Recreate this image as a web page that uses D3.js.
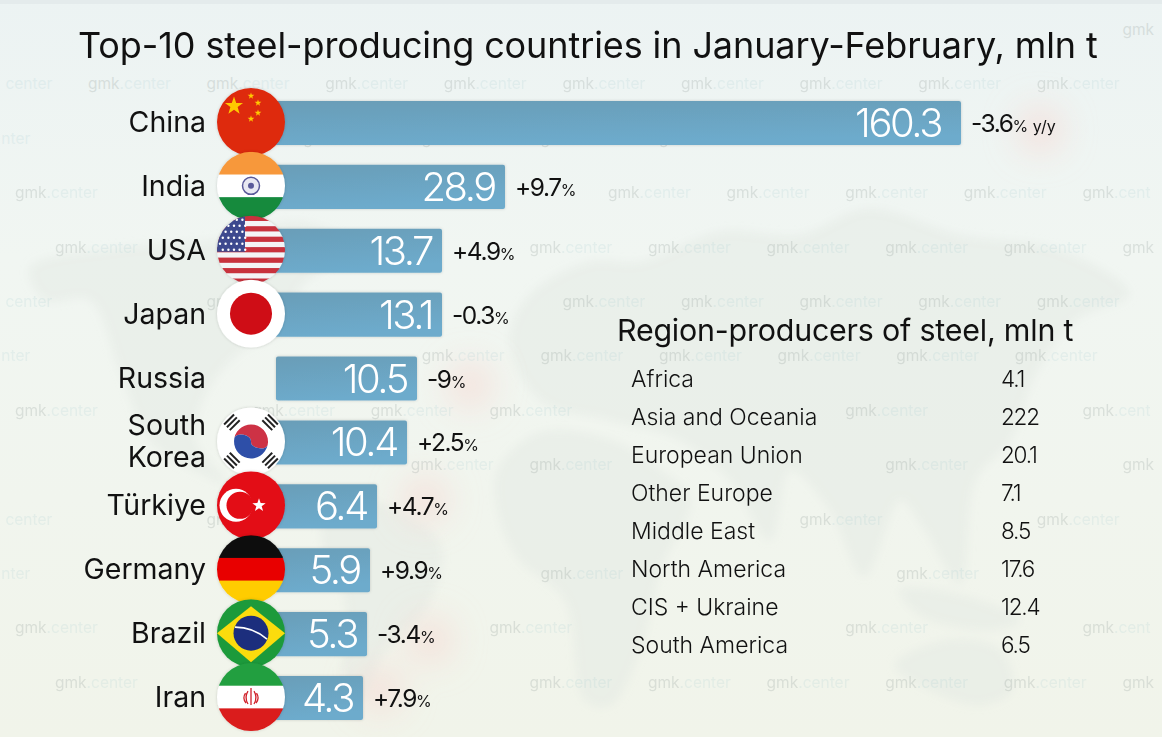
<!DOCTYPE html>
<html>
<head>
<meta charset="utf-8">
<script src="https://cdnjs.cloudflare.com/ajax/libs/d3/7.8.5/d3.min.js"></script>
<style>
html, body { margin: 0; padding: 0; background: #eef3ef; }
svg { display: block; }
text { font-family: Inter, Lato, sans-serif; fill: #111; }
</style>
</head>
<body>
<svg id="chart" width="1162" height="737"></svg>
<script>
var countries = ["China", "India", "USA", "Japan", "Russia", "South Korea", "Türkiye", "Germany", "Brazil", "Iran"];
var output = [160.3, 28.9, 13.7, 13.1, 10.5, 10.4, 6.4, 5.9, 5.3, 4.3];
var changes = ["-3.6", "+9.7", "+4.9", "-0.3", "-9", "+2.5", "+4.7", "+9.9", "-3.4", "+7.9"];
var regions = ["Africa", "Asia and Oceania", "European Union", "Other Europe", "Middle East", "North America", "CIS + Ukraine", "South America"];
var regionOutput = ["4.1", "222", "20.1", "7.1", "8.5", "17.6", "12.4", "6.5"];

var svg = d3.select("#chart");
var defs = svg.append("defs");

var bg = defs.append("linearGradient").attr("id", "bg").attr("x1", 0).attr("y1", 0).attr("x2", 0).attr("y2", 1);
bg.append("stop").attr("offset", 0).attr("stop-color", "#ecf3f3");
bg.append("stop").attr("offset", 0.35).attr("stop-color", "#f1f6f2");
bg.append("stop").attr("offset", 1).attr("stop-color", "#f1f4ea");

var barFill = defs.append("linearGradient").attr("id", "barFill").attr("x1", 0).attr("y1", 0).attr("x2", 0.3).attr("y2", 1);
barFill.append("stop").attr("offset", 0).attr("stop-color", "#6a9db7");
barFill.append("stop").attr("offset", 1).attr("stop-color", "#6dabcc");

defs.append("filter").attr("id", "blur").attr("x", "-20%").attr("y", "-20%").attr("width", "140%").attr("height", "140%")
	.append("feGaussianBlur").attr("stdDeviation", 4);
defs.append("filter").attr("id", "glow").attr("x", "-80%").attr("y", "-80%").attr("width", "260%").attr("height", "260%")
	.append("feGaussianBlur").attr("stdDeviation", 16);
defs.append("filter").attr("id", "shadow").attr("x", "-20%").attr("y", "-20%").attr("width", "140%").attr("height", "140%")
	.append("feDropShadow").attr("dx", 0).attr("dy", 0).attr("stdDeviation", 1.5).attr("flood-color", "#000").attr("flood-opacity", 0.16);

svg.append("rect").attr("width", 1162).attr("height", 737).attr("fill", "url(#bg)");
svg.append("rect").attr("width", 1162).attr("height", 4).attr("fill", "#e4ebec");

// faint world map behind everything, rough outlines only
var land = [
	[[30, 268], [120, 248], [215, 240], [300, 222], [350, 246], [300, 288], [285, 330], [240, 352], [205, 395], [195, 440], [225, 482], [190, 468], [150, 440], [120, 370], [90, 300], [45, 300]],
	[[330, 498], [385, 505], [440, 545], [425, 610], [385, 650], [360, 700], [345, 690], [345, 600], [322, 540]],
	[[510, 340], [530, 295], [590, 262], [640, 262], [720, 232], [800, 235], [868, 209], [960, 235], [1060, 250], [1129, 294], [1075, 320], [1035, 375], [1010, 440], [975, 480], [960, 583], [925, 530], [900, 500], [864, 576], [830, 510], [790, 470], [770, 540], [730, 480], [680, 440], [610, 420], [540, 400]],
	[[498, 470], [540, 433], [610, 440], [660, 470], [690, 500], [660, 570], [640, 650], [610, 705], [585, 700], [565, 600], [520, 560], [500, 520]],
	[[895, 665], [950, 640], [1000, 650], [1012, 690], [980, 705], [930, 690]],
	[[900, 590], [960, 595], [1020, 620], [990, 630], [920, 615]]
];
var blob = d3.line().curve(d3.curveCatmullRomClosed.alpha(0.5));
svg.append("g").attr("filter", "url(#blur)").selectAll("path").data(land).enter().append("path")
	.attr("d", function (d) { return blob(d); })
	.attr("fill", "#e3e9e3")
	.attr("opacity", 0.5);

// reddish smudges from the original artwork
var smudges = [[1040, 130], [470, 385], [430, 640], [425, 500], [380, 690]];
svg.append("g").attr("filter", "url(#glow)").selectAll("circle").data(smudges).enter().append("circle")
	.attr("cx", function (d) { return d[0]; })
	.attr("cy", function (d) { return d[1]; })
	.attr("r", 24)
	.attr("fill", "#f6d9d2")
	.attr("opacity", 0.6);

// filled at the very end, once the foreground text can be measured
var mark = svg.append("g").attr("font-size", 15.5);

// the bars in the artwork are not to a linear scale, so the scale follows them knot by knot
var x = d3.scaleLinear()
	.domain([0, 4.3, 5.3, 5.9, 6.4, 10.4, 10.5, 13.1, 13.7, 28.9, 160.3])
	.range([276, 363, 367, 370, 377, 407, 417, 442, 442, 505, 961]);
var y = d3.scaleBand().domain(countries).range([91, 730]).paddingInner(0.31).paddingOuter(0.155);
var flagX = 251, flagR = 34;

svg.append("text")
	.attr("class", "fg")
	.attr("x", 78).attr("y", 58)
	.attr("font-size", 36)
	.attr("letter-spacing", -0.1)
	.text("Top-10 steel-producing countries in January-February, mln t");

var rows = svg.selectAll("g.row").data(countries).enter().append("g").attr("class", "row");

rows.append("rect")
	.attr("x", function (d) { return d == "Russia" ? x(0) : flagX; })
	.attr("y", function (d) { return y(d); })
	.attr("width", function (d, i) { return x(output[i]) - (d == "Russia" ? x(0) : flagX); })
	.attr("height", y.bandwidth())
	.attr("rx", 2)
	.attr("fill", "url(#barFill)")
	.attr("filter", "url(#shadow)");

rows.append("text")
	.attr("class", "fg")
	.attr("x", function (d, i) { return x(output[i]) - (i == 0 ? 20 : 10); })
	.attr("y", function (d) { return y(d) + y.bandwidth() / 2 + 14; })
	.attr("text-anchor", "end")
	.attr("font-size", 40)
	.attr("font-weight", 300)
	.attr("letter-spacing", -2.4)
	.style("fill", "#fff")
	.text(function (d, i) { return output[i]; });

var change = rows.append("text")
	.attr("class", "fg")
	.attr("x", function (d, i) { return x(output[i]) + 10; })
	.attr("y", function (d) { return y(d) + y.bandwidth() / 2 + 9; })
	.attr("font-size", 24.5)
	.attr("letter-spacing", -1.4);
change.append("tspan").text(function (d, i) { return changes[i]; });
change.append("tspan").attr("font-size", 16).attr("letter-spacing", 0).text(function (d, i) { return i == 0 ? "% y/y" : "%"; });

// country names, South Korea breaks over two lines
var names = rows.append("text")
	.attr("class", "fg")
	.attr("text-anchor", "end")
	.attr("font-size", 28.5)
	.attr("y", function (d) { return y(d) + y.bandwidth() / 2 + 9; });
names.selectAll("tspan")
	.data(function (d) { return d == "South Korea" ? ["South", "Korea"] : [d]; })
	.enter().append("tspan")
	.attr("x", 206)
	.attr("dy", function (d, i, n) { return n.length > 1 ? (i == 0 ? -16 : 32) : 0; })
	.text(function (d) { return d; });

// flags, each one drawn around the origin and clipped to the circle
var flags = {
	"China": function (g) {
		g.append("rect").attr("x", -34).attr("y", -34).attr("width", 68).attr("height", 68).attr("fill", "#de2910");
		star(g, -17, -16, 9.5, "#ffc800");
		[[0, -26], [7, -19], [7, -9], [0, -3]].forEach(function (p) { star(g, p[0], p[1], 3.5, "#ffc800"); });
	},
	"India": function (g) {
		stripes(g, ["#f7983a", "#ffffff", "#128a3c"]);
		g.append("circle").attr("r", 8.5).attr("fill", "#e8e8f2").attr("stroke", "#5a5a9a").attr("stroke-width", 1.5);
		g.append("circle").attr("r", 3).attr("fill", "#5a5a9a");
	},
	"USA": function (g) {
		stripes(g, d3.range(13).map(function (i) { return i % 2 ? "#f4f4f6" : "#c8313e"; }));
		g.append("rect").attr("x", -34).attr("y", -34).attr("width", 28).attr("height", 36).attr("fill", "#3c4a8e");
		d3.range(6).forEach(function (r) {
			d3.range(5).forEach(function (c) {
				g.append("circle").attr("cx", -31 + c * 5.6 + (r % 2) * 2.8).attr("cy", -30 + r * 6).attr("r", 1.2).attr("fill", "#fff");
			});
		});
	},
	"Japan": function (g) {
		g.append("rect").attr("x", -34).attr("y", -34).attr("width", 68).attr("height", 68).attr("fill", "#fff");
		g.append("circle").attr("r", 21).attr("fill", "#cf0a12");
	},
	"South Korea": function (g) {
		g.append("rect").attr("x", -34).attr("y", -34).attr("width", 68).attr("height", 68).attr("fill", "#fff");
		var mid = "A8.5 5 0 0 1 0 0 A8.5 5 0 0 0 -17 0 Z";
		var t = g.append("g").attr("transform", "rotate(12)");
		t.append("path").attr("d", "M-17 0 A17 17 0 0 1 17 0 " + mid).attr("fill", "#cd3045");
		t.append("path").attr("d", "M-17 0 A17 17 0 0 0 17 0 " + mid).attr("fill", "#2f4fa8");
		[45, 135, 225, 315].forEach(function (a) {
			var bars = g.append("g").attr("transform", "rotate(" + a + ") translate(0,-27)");
			[-4, 0, 4].forEach(function (o) {
				bars.append("rect").attr("x", -7).attr("y", o - 1).attr("width", 14).attr("height", 2).attr("fill", "#222");
			});
		});
	},
	"Türkiye": function (g) {
		g.append("rect").attr("x", -34).attr("y", -34).attr("width", 68).attr("height", 68).attr("fill", "#e30a17");
		g.append("circle").attr("cx", -15).attr("r", 16.5).attr("fill", "#fff");
		g.append("circle").attr("cx", -11).attr("r", 13.5).attr("fill", "#e30a17");
		star(g, 8, 0, 7, "#fff");
	},
	"Germany": function (g) { stripes(g, ["#0b0b0b", "#e80000", "#ffcc00"]); },
	"Brazil": function (g) {
		g.append("rect").attr("x", -34).attr("y", -34).attr("width", 68).attr("height", 68).attr("fill", "#1f9a3a");
		g.append("path").attr("d", "M0 -27 L34 0 L0 29 L-34 0 Z").attr("fill", "#fbdc0b");
		g.append("circle").attr("r", 17.5).attr("fill", "#1c2d7d");
		g.append("path").attr("d", "M-16 -6 Q2 -6 16 6").attr("fill", "none").attr("stroke", "#fff").attr("stroke-width", 1.6);
	},
	"Iran": function (g) {
		stripes(g, ["#239f40", "#ffffff", "#da1a1a"]);
		g.append("path").attr("d", "M0 -9 L0 8 M-3 -6 Q-7 0 -3 7 M3 -6 Q7 0 3 7 M-5.5 -4 Q-9 1 -5 6 M5.5 -4 Q9 1 5 6")
			.attr("fill", "none").attr("stroke", "#d0202a").attr("stroke-width", 1.3);
	}
};

function stripes(g, colours) {
	var band = d3.scaleBand().domain(d3.range(colours.length)).range([-34, 34]);
	colours.forEach(function (c, i) {
		g.append("rect").attr("x", -34).attr("y", band(i)).attr("width", 68).attr("height", band.bandwidth() + 0.5).attr("fill", c);
	});
}

function star(g, cx, cy, r, colour) {
	var pts = d3.range(10).map(function (i) {
		var a = -Math.PI / 2 + i * Math.PI / 5, q = i % 2 ? r * 0.4 : r;
		return [cx + q * Math.cos(a), cy + q * Math.sin(a)].join(",");
	});
	g.append("polygon").attr("points", pts.join(" ")).attr("fill", colour);
}

defs.append("clipPath").attr("id", "flagClip").append("circle").attr("r", flagR);

// later flags overlap earlier ones, Russia has none in the artwork
rows.filter(function (d) { return flags[d]; }).each(function (d) {
	var g = d3.select(this).append("g")
		.attr("transform", "translate(" + flagX + "," + (y(d) + y.bandwidth() / 2 - 1) + ")")
		.attr("filter", "url(#shadow)")
		.append("g")
		.attr("clip-path", "url(#flagClip)");
	flags[d](g);
});

// right hand table
svg.append("text")
	.attr("class", "fg")
	.attr("x", 617).attr("y", 341)
	.attr("font-size", 30.4)
	.attr("letter-spacing", -0.2)
	.text("Region-producers of steel, mln t");

var ry = d3.scalePoint().domain(regions).range([379, 645]);
var table = svg.selectAll("g.region").data(regions).enter().append("g").attr("class", "region");
table.append("text")
	.attr("class", "fg")
	.attr("x", 631)
	.attr("y", function (d) { return ry(d) + 8; })
	.attr("font-size", 23)
	.attr("font-weight", 300)
	.text(function (d) { return d; });
table.append("text")
	.attr("class", "fg")
	.attr("x", 1001)
	.attr("y", function (d) { return ry(d) + 8; })
	.attr("font-size", 22.5)
	.attr("font-weight", 300)
	.attr("letter-spacing", -1.2)
	.text(function (d, i) { return regionOutput[i]; });

// watermark grid: four staggered rows repeating down the page.
// copies that run off the page keep only their visible letters, copies that
// would run into a foreground text are left out
var rowOffsets = [55, 88, 66, 15];
var stamp = "gmk.center";

var probe = mark.append("text");
function measure(s) {
	return s ? probe.text(s).node().getComputedTextLength() : 0;
}

var taken = svg.selectAll("text.fg").nodes().map(function (n) {
	var b = n.getBBox();
	return { left: b.x, right: b.x + b.width, top: b.y, bottom: b.y + b.height };
});
var full = measure(stamp);

d3.range(13).forEach(function (r) {
	var wy = 35 + r * 54.4;
	d3.range(-1, 10).forEach(function (c) {
		var wx = rowOffsets[r % 4] + c * 118.6;
		var from = 0, to = stamp.length;
		while (from < to && wx + full - measure(stamp.slice(from)) < 1) from++;
		while (to > from && wx + measure(stamp.slice(0, to)) > 1158) to--;
		if (to - from < 3) return;
		var left = wx + full - measure(stamp.slice(from));
		var right = wx + measure(stamp.slice(0, to));
		var hit = taken.some(function (b) {
			return left < b.right && right > b.left && wy - 12 < b.bottom - 3 && wy + 4 > b.top + 3;
		});
		if (hit) return;
		var t = mark.append("text").attr("x", left).attr("y", wy);
		var dot = stamp.indexOf(".");
		if (from < dot) t.append("tspan").text(stamp.slice(from, Math.min(dot, to))).style("fill", "#8f9b97").attr("opacity", 0.24);
		if (to > dot) t.append("tspan").text(stamp.slice(Math.max(from, dot), to)).style("fill", "#8fc0c8").attr("opacity", 0.14);
	});
});
probe.remove();
</script>
</body>
</html>
